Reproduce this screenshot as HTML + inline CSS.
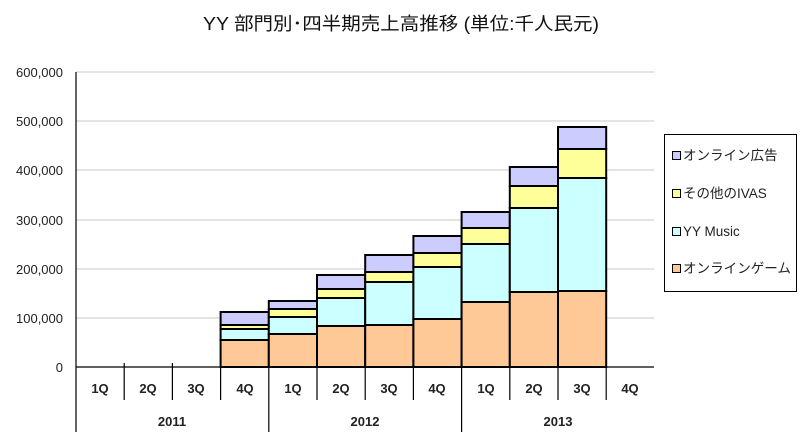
<!DOCTYPE html>
<html><head><meta charset="utf-8"><style>
html,body{margin:0;padding:0;background:#fff;}
svg{display:block;font-family:"Liberation Sans","Noto Sans CJK JP",sans-serif;}
</style></head><body>
<svg width="800" height="441" viewBox="0 0 800 441" xmlns="http://www.w3.org/2000/svg">
<rect width="800" height="441" fill="#fff"/>
<text x="401" y="30" font-size="18" text-anchor="middle" fill="#111" textLength="396" lengthAdjust="spacingAndGlyphs">YY 部門別･四半期売上高推移 (単位:千人民元)</text>
<g stroke="#c8c8c8" stroke-width="1">
<line x1="76" y1="72" x2="654" y2="72"/>
<line x1="76" y1="121" x2="654" y2="121"/>
<line x1="76" y1="170" x2="654" y2="170"/>
<line x1="76" y1="220" x2="654" y2="220"/>
<line x1="76" y1="269" x2="654" y2="269"/>
<line x1="76" y1="318" x2="654" y2="318"/>
</g>
<g font-size="13" fill="#222" text-anchor="end">
<text x="63" y="77">600,000</text>
<text x="63" y="126">500,000</text>
<text x="63" y="175">400,000</text>
<text x="63" y="225">300,000</text>
<text x="63" y="274">200,000</text>
<text x="63" y="323">100,000</text>
<text x="63" y="372">0</text>
</g>
<g stroke="#000" stroke-width="2">
<rect x="220.6" y="340" width="48.2" height="27" fill="#FFC897"/>
<rect x="220.6" y="329" width="48.2" height="11" fill="#CCFFFF"/>
<rect x="220.6" y="325" width="48.2" height="4" fill="#FFFF99"/>
<rect x="220.6" y="312" width="48.2" height="13" fill="#CCCCFF"/>
<rect x="268.8" y="334" width="48.2" height="33" fill="#FFC897"/>
<rect x="268.8" y="317" width="48.2" height="17" fill="#CCFFFF"/>
<rect x="268.8" y="309" width="48.2" height="8" fill="#FFFF99"/>
<rect x="268.8" y="301" width="48.2" height="8" fill="#CCCCFF"/>
<rect x="317" y="326" width="48.2" height="41" fill="#FFC897"/>
<rect x="317" y="298" width="48.2" height="28" fill="#CCFFFF"/>
<rect x="317" y="289" width="48.2" height="9" fill="#FFFF99"/>
<rect x="317" y="275" width="48.2" height="14" fill="#CCCCFF"/>
<rect x="365.2" y="325" width="48.2" height="42" fill="#FFC897"/>
<rect x="365.2" y="282" width="48.2" height="43" fill="#CCFFFF"/>
<rect x="365.2" y="272" width="48.2" height="10" fill="#FFFF99"/>
<rect x="365.2" y="255" width="48.2" height="17" fill="#CCCCFF"/>
<rect x="413.4" y="319" width="48.2" height="48" fill="#FFC897"/>
<rect x="413.4" y="267" width="48.2" height="52" fill="#CCFFFF"/>
<rect x="413.4" y="253" width="48.2" height="14" fill="#FFFF99"/>
<rect x="413.4" y="236" width="48.2" height="17" fill="#CCCCFF"/>
<rect x="461.6" y="302" width="48.2" height="65" fill="#FFC897"/>
<rect x="461.6" y="244" width="48.2" height="58" fill="#CCFFFF"/>
<rect x="461.6" y="228" width="48.2" height="16" fill="#FFFF99"/>
<rect x="461.6" y="212" width="48.2" height="16" fill="#CCCCFF"/>
<rect x="509.8" y="292" width="48.2" height="75" fill="#FFC897"/>
<rect x="509.8" y="208" width="48.2" height="84" fill="#CCFFFF"/>
<rect x="509.8" y="186" width="48.2" height="22" fill="#FFFF99"/>
<rect x="509.8" y="167" width="48.2" height="19" fill="#CCCCFF"/>
<rect x="558" y="291" width="48.2" height="76" fill="#FFC897"/>
<rect x="558" y="178" width="48.2" height="113" fill="#CCFFFF"/>
<rect x="558" y="149" width="48.2" height="29" fill="#FFFF99"/>
<rect x="558" y="127" width="48.2" height="22" fill="#CCCCFF"/>
</g>
<g stroke="#000" stroke-width="1.2">
<line x1="76" y1="72" x2="76" y2="432"/>
<line x1="76" y1="367" x2="654" y2="367"/>
<line x1="124.2" y1="363" x2="124.2" y2="400"/>
<line x1="172.4" y1="363" x2="172.4" y2="400"/>
<line x1="220.6" y1="363" x2="220.6" y2="400"/>
<line x1="268.8" y1="363" x2="268.8" y2="432"/>
<line x1="317" y1="363" x2="317" y2="400"/>
<line x1="365.2" y1="363" x2="365.2" y2="400"/>
<line x1="413.4" y1="363" x2="413.4" y2="400"/>
<line x1="461.6" y1="363" x2="461.6" y2="432"/>
<line x1="509.8" y1="363" x2="509.8" y2="400"/>
<line x1="558" y1="363" x2="558" y2="400"/>
<line x1="606.2" y1="363" x2="606.2" y2="400"/>
</g>
<g font-size="13" font-weight="bold" fill="#222" text-anchor="middle">
<text x="100" y="393">1Q</text>
<text x="148" y="393">2Q</text>
<text x="196" y="393">3Q</text>
<text x="245" y="393">4Q</text>
<text x="293" y="393">1Q</text>
<text x="341" y="393">2Q</text>
<text x="389" y="393">3Q</text>
<text x="437" y="393">4Q</text>
<text x="486" y="393">1Q</text>
<text x="534" y="393">2Q</text>
<text x="582" y="393">3Q</text>
<text x="630" y="393">4Q</text>
<text x="172" y="426">2011</text>
<text x="365" y="426">2012</text>
<text x="558" y="426">2013</text>
</g>
<rect x="664.5" y="134.5" width="132" height="157" fill="#fff" stroke="#000" stroke-width="1"/>
<g stroke="#000" stroke-width="1">
<rect x="672.5" y="151.5" width="8" height="8" fill="#CCCCFF"/>
<rect x="672.5" y="189.5" width="8" height="8" fill="#FFFF99"/>
<rect x="672.5" y="227.5" width="8" height="8" fill="#CCFFFF"/>
<rect x="672.5" y="264.5" width="8" height="8" fill="#FFC897"/>
</g>
<g font-size="13.5" fill="#222">
<text x="683" y="160">オンライン広告</text>
<text x="683" y="198">その他のIVAS</text>
<text x="683" y="236">YY Music</text>
<text x="683" y="273" textLength="108" lengthAdjust="spacingAndGlyphs">オンラインゲーム</text>
</g>
</svg>
</body></html>
